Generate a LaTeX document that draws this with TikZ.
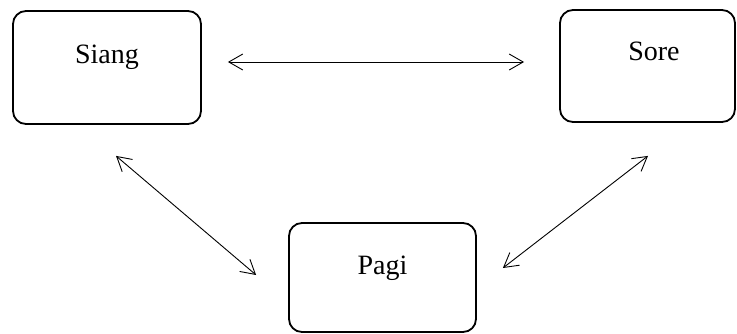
\documentclass[tikz,border=0pt]{standalone}
\usepackage{fontspec}
\setmainfont{Liberation Serif}
\usetikzlibrary{arrows.meta}
\begin{document}
\begin{tikzpicture}[x=1pt,y=-1pt,
  box/.style={draw, line width=1.8pt, rounded corners=13pt, inner sep=0pt},
  lbl/.style={anchor=base, inner sep=0pt, font=\fontsize{28}{32}\selectfont},
  link/.style={line width=0.9pt, {Straight Barb[length=14pt,width=16pt]}-{Straight Barb[length=14pt,width=16pt]}}]
\useasboundingbox (0,0) rectangle (737,333);
\node[box, minimum width=188pt, minimum height=113pt] (siang) at (107,67.5) {};
\node[box, minimum width=175pt, minimum height=112pt] (sore) at (647.5,66) {};
\node[box, minimum width=187pt, minimum height=109pt] (pagi) at (382.5,277.5) {};
\node[lbl] (siangT) at (107,63) {Siang};
\node[lbl] (soreT) at (654,60) {Sore};
\node[lbl] (pagiT) at (382.5,274) {Pagi};
\draw[link] ([shift={(26,-5.5)}]siang.east) -- ([shift={(-35,-4)}]sore.west);
\draw[link] ([shift={(9,31)}]siang.south) -- ([shift={(-32,-2.5)}]pagi.west);
\draw[link] ([shift={(0.5,33)}]sore.south) -- ([shift={(26,-9.5)}]pagi.east);
\end{tikzpicture}
\end{document}
